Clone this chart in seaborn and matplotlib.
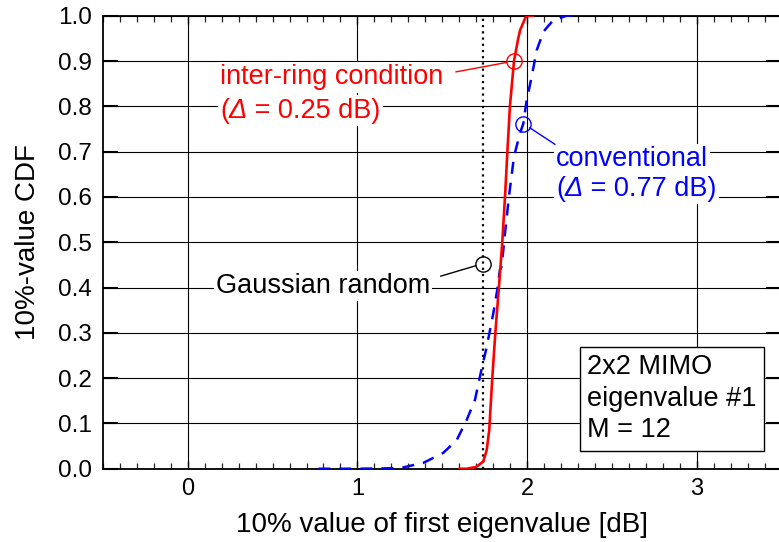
import numpy as np
import pandas as pd
import matplotlib
matplotlib.use("Agg")
import matplotlib.pyplot as plt
import seaborn as sns
from matplotlib.ticker import MultipleLocator
from matplotlib.offsetbox import TextArea, HPacker, AnnotationBbox

# inter-ring condition (red, solid): x = 10% value [dB], y = CDF
ring_x = [1.60, 1.644, 1.70, 1.718, 1.742, 1.762, 1.777, 1.795, 1.813, 1.834,
          1.854, 1.870, 1.884, 1.899, 1.923, 1.948, 1.959, 1.988, 2.00, 2.035]
ring_y = [0.0, 0.0, 0.004, 0.009, 0.016, 0.041, 0.085, 0.2, 0.3, 0.4,
          0.5, 0.6, 0.7, 0.8, 0.9, 0.95, 0.968, 0.994, 1.0, 1.0]

# conventional (blue, dashed)
conv_x = [0.77, 1.0, 1.2, 1.27, 1.389, 1.506, 1.585, 1.644, 1.693, 1.722, 1.762,
          1.801, 1.824, 1.840, 1.850, 1.870, 1.893, 1.923, 1.958, 1.978, 1.998,
          2.027, 2.057, 2.097, 2.154, 2.233, 2.27]
conv_y = [0.0, 0.0, 0.001, 0.003, 0.013, 0.035, 0.063, 0.1075, 0.152, 0.203, 0.269,
          0.343, 0.394, 0.439, 0.446, 0.520, 0.600, 0.689, 0.740, 0.762, 0.814,
          0.865, 0.924, 0.965, 0.990, 1.0, 1.0]

# Gaussian random (black, dotted vertical line)
gauss_x = [1.74, 1.74]
gauss_y = [0.0, 1.0]

# marked points for the labels
mark_ring = (1.925, 0.90)
mark_conv = (1.978, 0.762)
mark_gauss = (1.742, 0.453)

x_ticks = [0, 1, 2, 3]
y_ticks = [round(0.1 * i, 1) for i in range(11)]

sns.set_style("ticks")
plt.rcParams["font.family"] = ["Liberation Sans", "DejaVu Sans"]
plt.rcParams["text.color"] = "black"
plt.rcParams["axes.labelcolor"] = "black"

RED = "#ff0000"
BLUE = "#0000ff"

fig = plt.figure(figsize=(7.79, 5.42), dpi=100)
ax = fig.add_axes([0.1322, 0.1352, 0.871, 0.8358])

ring_df = pd.DataFrame({"x": ring_x, "y": ring_y})
conv_df = pd.DataFrame({"x": conv_x, "y": conv_y})
gauss_df = pd.DataFrame({"x": gauss_x, "y": gauss_y})

sns.lineplot(data=conv_df, x="x", y="y", ax=ax, color=BLUE, lw=1.8,
             estimator=None, sort=False, zorder=3)
ax.lines[-1].set_dashes((4.8, 3.6))
sns.lineplot(data=gauss_df, x="x", y="y", ax=ax, color="black", lw=1.6,
             estimator=None, sort=False, zorder=3)
ax.lines[-1].set_dashes((1.0, 1.8))
sns.lineplot(data=ring_df, x="x", y="y", ax=ax, color=RED, lw=1.9,
             estimator=None, sort=False, zorder=4)

# open circles on the curves
for (px, py), c in [(mark_ring, RED), (mark_conv, BLUE), (mark_gauss, "black")]:
    ax.plot([px], [py], marker="o", ms=11, mfc="none", mec=c, mew=1.0, zorder=5)

ax.set_xlim(-0.5, 3.5)
ax.set_ylim(0, 1)
ax.set_xticks(x_ticks)
ax.set_yticks(y_ticks)
ax.set_yticklabels([f"{v:.1f}" for v in y_ticks])
ax.xaxis.set_minor_locator(MultipleLocator(0.1))
ax.grid(True, which="major", color="black", lw=0.8)
ax.set_axisbelow(True)

ax.tick_params(axis="x", which="major", direction="in", top=True, length=6,
               width=1.0, labelsize=17, pad=7, colors="black")
ax.tick_params(axis="x", which="minor", direction="in", top=True, length=4,
               width=0.9)
ax.tick_params(axis="y", which="major", direction="in", right=True, length=11,
               width=1.5, labelsize=17.5, pad=8, colors="black")
for s in ax.spines.values():
    s.set_linewidth(1.3)
    s.set_color("black")

ax.set_xlabel("10% value of first eigenvalue [dB]", fontsize=20, labelpad=8)
ax.set_ylabel("10%-value CDF", fontsize=20, labelpad=12)


def put_line(x, y, parts, color, size=19.5):
    boxes = [TextArea(t, textprops=dict(color=color, fontsize=size, fontstyle=st))
             for t, st in parts]
    row = HPacker(children=boxes, align="baseline", pad=0, sep=0)
    ab = AnnotationBbox(row, (x, y), xycoords="data", box_alignment=(0, 0),
                        frameon=True, pad=0.15,
                        bboxprops=dict(fc="white", ec="none"), zorder=4)
    ax.add_artist(ab)


def leader(start, end, color):
    ax.annotate("", xy=end, xytext=start, xycoords="data",
                arrowprops=dict(arrowstyle="-", color=color, lw=1.0,
                                shrinkA=0, shrinkB=5.5), zorder=4)


put_line(0.19, 0.835, [("inter-ring condition", "normal")], RED)
put_line(0.19, 0.762, [("(", "normal"), ("\u0394", "italic"),
                       (" = 0.25 dB)", "normal")], RED)
leader((1.58, 0.876), mark_ring, RED)

put_line(2.17, 0.655, [("conventional", "normal")], BLUE)
put_line(2.17, 0.589, [("(", "normal"), ("\u0394", "italic"),
                       (" = 0.77 dB)", "normal")], BLUE)
leader((2.165, 0.716), mark_conv, BLUE)

put_line(0.167, 0.375, [("Gaussian random", "normal")], "black")
leader((1.49, 0.425), mark_gauss, "black")

ax.text(2.355, 0.253, "2x2 MIMO\neigenvalue #1\nM = 12", fontsize=19.5,
        va="top", ha="left", linespacing=1.28, zorder=5,
        bbox=dict(boxstyle="square,pad=0.28", fc="white", ec="black", lw=1.0))

fig.savefig("out.png", dpi=100)
